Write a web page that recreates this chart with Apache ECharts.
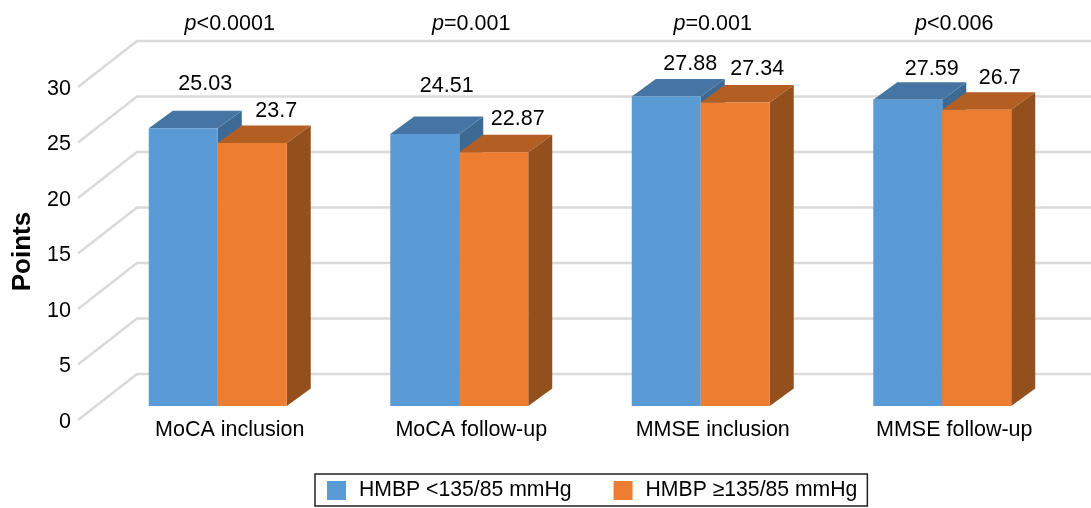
<!DOCTYPE html>
<html><head><meta charset="utf-8">
<style>html,body{margin:0;padding:0;background:#fff}#c{width:1091px;height:508px}</style>
<script src="https://cdn.jsdelivr.net/npm/echarts@6/dist/echarts.min.js"></script>
</head><body><div id="c"></div>
<script>
const categories = ['MoCA inclusion','MoCA follow-up','MMSE inclusion','MMSE follow-up'];
const seriesNames = ['HMBP <135/85 mmHg','HMBP ≥135/85 mmHg'];
const valuesLow = [25.03,24.51,27.88,27.59];
const valuesHigh = [23.7,22.87,27.34,26.7];
const pLabels = ['<0.0001','=0.001','=0.001','<0.006'];
const yTicks = [0,5,10,15,20,25,30];

// layout only
const FONT = '"Liberation Sans", Arial, sans-serif';
const INK = '#000';
const DX = 24, DY = -17.5, BAR_RATIO = 69/241.5;
const labelShiftLow = [[22,-44],[22,-48],[24,-32],[24,-31]];
const labelShiftHigh = [[24,-32],[24,-33],[22,-33],[23,-32]];
const palette = [
  {front:'#5B9BD5', top:'#4675A3', side:'#3D6A94'},
  {front:'#ED7D31', top:'#B35E22', side:'#94501C'}
];

function barRender(seriesIdx, shifts){
  return function(params, api){
    const i = api.value(0), v = api.value(1);
    const base = api.coord([i,0]), top = api.coord([i,v]);
    const w = api.size([1,0])[0]*BAR_RATIO;
    const x0 = base[0] + (seriesIdx-1)*w, x1 = x0+w, y0 = base[1], y1 = top[1];
    const c = palette[seriesIdx], s = shifts[i];
    return {type:'group', children:[
      {type:'polygon', shape:{points:[[x1,y1],[x1+DX,y1+DY],[x1+DX,y0+DY],[x1,y0]]}, style:{fill:c.side}},
      {type:'polygon', shape:{points:[[x0,y1],[x0+DX,y1+DY],[x1+DX,y1+DY],[x1,y1]]}, style:{fill:c.top}},
      {type:'rect', shape:{x:x0,y:y1,width:w,height:y0-y1}, style:{fill:c.front}},
      {type:'text', style:{text:String(v), x:(x0+x1)/2+s[0], y:y1+s[1], align:'center', verticalAlign:'middle',
        font:'21.5px '+FONT, fill:INK}, z2:50}
    ]};
  };
}
function wallRender(params, api){
  const y = api.coord([0, api.value(1)])[1];
  const left = api.coord([0,0])[0] - api.size([1,0])[0]/2;
  const st = {stroke:'#DADADA', lineWidth:2.5, fill:'none'};
  return {type:'polyline', shape:{points:[[left-19,y+14],[left+40,y-32],[1091,y-32]]}, style:st};
}
function pRender(params, api){
  const i = api.value(0);
  const c = api.coord([i,30]);
  return {type:'text', style:{x:c[0]+12, y:c[1]-49, align:'center', verticalAlign:'middle',
    text:'{i|p}{n|'+pLabels[i]+'}',
    rich:{i:{font:'italic 21.5px '+FONT, fill:INK}, n:{font:'21.5px '+FONT, fill:INK}}}};
}

const chart = echarts.init(document.getElementById('c'), null, {renderer:'canvas'});
chart.setOption({
  animation:false,
  backgroundColor:'#fff',
  grid:{left:97, width:966, top:73, height:333, outerBoundsMode:'none', containLabel:false},
  legend:{
    data:seriesNames, left:315, top:474, width:560, orient:'horizontal',
    padding:[6,10,5,12], itemGap:42, itemWidth:19, itemHeight:19,
    borderColor:'#222', borderWidth:1.5, icon:'rect',
    textStyle:{fontFamily:FONT, fontSize:21.2, color:INK, padding:[0,0,0,8]}
  },
  xAxis:{type:'category', data:categories,
    axisLine:{show:false}, axisTick:{show:false}, splitLine:{show:false},
    axisLabel:{fontFamily:FONT, fontSize:21.5, color:INK, margin:13, padding:[0,0,0,24]}},
  yAxis:{type:'value', min:0, max:30, interval:5, name:'Points', nameLocation:'middle', nameGap:60, nameRotate:90,
    nameTextStyle:{fontFamily:FONT, fontSize:26, fontWeight:'bold', color:INK, padding:[0,24,0,0]},
    axisLine:{show:false}, axisTick:{show:false}, splitLine:{show:false},
    axisLabel:{fontFamily:FONT, fontSize:21.5, color:INK, margin:26, verticalAlign:'top', lineHeight:32}},
  series:[
    {type:'custom', name:'wall', data:yTicks.map(t=>[0,t]), renderItem:wallRender, silent:true, z:1, clip:false},
    {type:'custom', name:seriesNames[0], data:valuesLow.map((v,i)=>[i,v]), renderItem:barRender(0,labelShiftLow),
      itemStyle:{color:palette[0].front}, z:2, clip:false},
    {type:'custom', name:seriesNames[1], data:valuesHigh.map((v,i)=>[i,v]), renderItem:barRender(1,labelShiftHigh),
      itemStyle:{color:palette[1].front}, z:3, clip:false},
    {type:'custom', name:'p', data:categories.map((c,i)=>[i]), renderItem:pRender, silent:true, z:4, clip:false}
  ]
});
</script></body></html>
